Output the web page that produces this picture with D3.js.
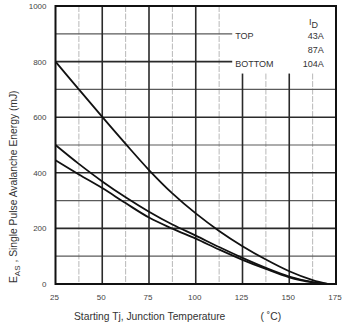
<!DOCTYPE html>
<html>
<head>
<meta charset="utf-8">
<script src="https://cdn.jsdelivr.net/npm/d3@7"></script>
<style>
  body { margin: 0; background: #fff; }
  svg { display: block; font-family: "Liberation Sans", Arial, sans-serif; }
</style>
</head>
<body>
<div class="chart"></div>
<script>
// starting junction temperature (C)
var temps = [25, 37.5, 50, 62.5, 75, 87.5, 100, 112.5, 125, 137.5, 150, 162.5, 170.5];
// E_AS (mJ) for each I_D
var eas43 = [800, 700, 601, 504, 410, 326, 254, 191, 136, 88, 46, 14, 0];
var eas87 = [500, 432, 369, 312, 260, 214, 174, 133, 94, 58, 27, 7, 0];
var eas104 = [445, 394, 345, 291, 239, 199, 163, 124, 87, 54, 24, 6, 0];

var xTicks = [25, 50, 75, 100, 125, 150, 175];
var xMinor = [37.5, 62.5, 87.5, 112.5, 137.5, 162.5];
var yTicks = [0, 200, 400, 600, 800, 1000];
var yMinor = [100, 300, 500, 700, 900];

var legendNames = ["TOP", "", "BOTTOM"];
var legendCurrents = ["43A", "87A", "104A"];

var margin = { top: 6, right: 8, bottom: 44, left: 55.5 },
  width = 344 - margin.left - margin.right,
  height = 328 - margin.top - margin.bottom;

const svg = d3
  .select(".chart")
  .append("svg")
  .attr("width", 344)
  .attr("height", 328)
  .append("g")
  .attr("transform", "translate(" + margin.left + "," + margin.top + ")");

var x = d3.scaleLinear().domain([25, 175]).range([0, width]);
var y = d3.scaleLinear().domain([0, 1000]).range([height, 0]);

// legend box sits in the top right corner, grid is cut there
var boxX = x(119.5), boxY = y(757);

//minor verticals (light, dashed)
svg.selectAll(".vminor")
  .data(xMinor)
  .enter()
  .append("line")
  .attr("x1", (d) => x(d))
  .attr("x2", (d) => x(d))
  .attr("y1", (d) => (x(d) > boxX ? boxY : 0))
  .attr("y2", height)
  .attr("stroke", "#b8b8b8")
  .attr("stroke-width", 1)
  .attr("stroke-dasharray", "6,1.5");

//minor horizontals
svg.selectAll(".hminor")
  .data(yMinor)
  .enter()
  .append("line")
  .attr("x1", 0)
  .attr("x2", (d) => (y(d) < boxY ? boxX : width))
  .attr("y1", (d) => y(d))
  .attr("y2", (d) => y(d))
  .attr("stroke", "#5a5a5a")
  .attr("stroke-width", 1.2);

//major verticals
svg.selectAll(".vmajor")
  .data(xTicks.slice(1, -1))
  .enter()
  .append("line")
  .attr("x1", (d) => x(d))
  .attr("x2", (d) => x(d))
  .attr("y1", (d) => (x(d) > boxX ? boxY : 0))
  .attr("y2", height)
  .attr("stroke", "#2a2a2a")
  .attr("stroke-width", 1.6);

//major horizontals
svg.selectAll(".hmajor")
  .data(yTicks.slice(1, -1))
  .enter()
  .append("line")
  .attr("x1", 0)
  .attr("x2", (d) => (y(d) < boxY ? boxX : width))
  .attr("y1", (d) => y(d))
  .attr("y2", (d) => y(d))
  .attr("stroke", "#2a2a2a")
  .attr("stroke-width", 1.6);

//curves
var line = d3.line()
  .x((d) => x(d[0]))
  .y((d) => y(d[1]))
  .curve(d3.curveCatmullRom.alpha(0.5));

[eas43, eas87, eas104].forEach(function (s) {
  svg.append("path")
    .datum(temps.map((t, i) => [t, s[i]]))
    .attr("d", line)
    .attr("fill", "none")
    .attr("stroke", "#111")
    .attr("stroke-width", 1.8);
});

//frame
svg.append("rect")
  .attr("width", width)
  .attr("height", height)
  .attr("fill", "none")
  .attr("stroke", "#111")
  .attr("stroke-width", 2);

//legend
var lg = svg.append("g").attr("font-size", 9).attr("fill", "#333");
var lgY = [y(900), y(850), y(800)];
lg.selectAll(".lname")
  .data(legendNames)
  .enter()
  .append("text")
  .attr("x", boxX + 3)
  .attr("y", (d, i) => lgY[i] + 5)
  .text((d) => d);
lg.selectAll(".lcur")
  .data(legendCurrents)
  .enter()
  .append("text")
  .attr("x", x(168.5))
  .attr("y", (d, i) => lgY[i] + 5)
  .attr("text-anchor", "end")
  .text((d) => d);
var idText = lg.append("text")
  .attr("x", x(160.5))
  .attr("y", y(933));
idText.append("tspan").text("I");
idText.append("tspan").attr("dy", 3).text("D");

//axis labels
svg.selectAll(".ylab")
  .data(yTicks)
  .enter()
  .append("text")
  .attr("x", -9)
  .attr("y", (d) => y(d) + 3)
  .attr("text-anchor", "end")
  .attr("font-size", 8)
  .attr("fill", "#444")
  .text((d) => d);

svg.selectAll(".xlab")
  .data(xTicks)
  .enter()
  .append("text")
  .attr("x", (d) => x(d) - 1)
  .attr("y", height + 15.5)
  .attr("text-anchor", "middle")
  .attr("font-size", 8)
  .attr("fill", "#444")
  .text((d) => d);

svg.append("text")
  .attr("x", 18.5)
  .attr("y", height + 35.5)
  .attr("font-size", 10.3)
  .attr("fill", "#333")
  .text("Starting Tj, Junction Temperature");

svg.append("text")
  .attr("x", 205)
  .attr("y", height + 35.5)
  .attr("font-size", 10.3)
  .attr("fill", "#333")
  .text("( \u02DAC)");

var yt = svg.append("text")
  .attr("transform", "translate(" + (-39) + "," + (height - 1) + ") rotate(-90)")
  .attr("font-size", 10.3)
  .attr("fill", "#333");
yt.append("tspan").text("E");
yt.append("tspan").attr("dy", 3).attr("font-size", 8).text("AS");
yt.append("tspan").attr("dy", -3).text(" , Single Pulse Avalanche Energy (mJ)");
</script>
</body>
</html>
